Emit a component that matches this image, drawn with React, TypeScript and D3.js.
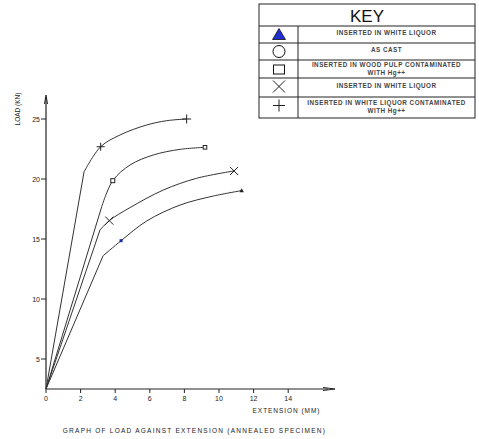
import React from "react";
import * as d3 from "d3";

// Extension (mm) and load (kN)
const extPlus = [0, 2.2, 3.16, 4.28, 5.82, 6.98, 8.13];
const loadPlus = [2.5, 20.6, 22.69, 23.67, 24.5, 24.86, 25.0];
const extSquare = [0, 3.22, 3.86, 4.86, 6.2, 7.75, 9.19];
const loadSquare = [2.5, 17.69, 19.86, 21.17, 22.0, 22.47, 22.64];
const extCross = [0, 3.12, 3.66, 4.86, 6.78, 8.71, 10.87];
const loadCross = [2.5, 15.75, 16.53, 17.62, 19.08, 20.06, 20.67];
const extTri = [0, 3.3, 4.34, 5.82, 7.75, 9.67, 11.31];
const loadTri = [2.5, 13.6, 14.86, 16.5, 17.83, 18.58, 19.03];

const xTicks = [0, 2, 4, 6, 8, 10, 12, 14];
const yTicks = [5, 10, 15, 20, 25];

const keySymbols = ["triangle", "circle", "square", "cross", "plus"];
const keyLabels = [
  ["INSERTED IN WHITE LIQUOR"],
  ["AS CAST"],
  ["INSERTED IN WOOD PULP  CONTAMINATED", "WITH Hg++"],
  ["INSERTED IN WHITE LIQUOR"],
  ["INSERTED IN WHITE LIQUOR  CONTAMINATED", "WITH Hg++"],
];

const FONT = "'Liberation Sans', Arial, sans-serif";
const INK = "#222";

function zip(xs: number[], ys: number[]): [number, number][] {
  return xs.map((x, i) => [x, ys[i]]);
}

export default function App() {
  const x = d3.scaleLinear().domain([0, 14]).range([46, 288.2]);
  const y = d3.scaleLinear().domain([5, 25]).range([359, 119]);
  const y0 = y(2.5);
  const x0 = x(0);

  const lin = d3.line<[number, number]>().x((d) => x(d[0])).y((d) => y(d[1]));
  const smooth = d3
    .line<[number, number]>()
    .x((d) => x(d[0]))
    .y((d) => y(d[1]))
    .curve(d3.curveCatmullRom.alpha(0.5));

  const series = [
    { pts: zip(extPlus, loadPlus), kink: 1 },
    { pts: zip(extSquare, loadSquare), kink: 1 },
    { pts: zip(extCross, loadCross), kink: 1 },
    { pts: zip(extTri, loadTri), kink: 1 },
  ];

  const plus = (cx: number, cy: number, s: number, key: string) => (
    <g key={key} stroke={INK} strokeWidth={1}>
      <line x1={cx - s} x2={cx + s} y1={cy} y2={cy} />
      <line x1={cx} x2={cx} y1={cy - s} y2={cy + s} />
    </g>
  );
  const cross = (cx: number, cy: number, s: number, key: string) => (
    <g key={key} stroke={INK} strokeWidth={1}>
      <line x1={cx - s} x2={cx + s} y1={cy - s} y2={cy + s} />
      <line x1={cx - s} x2={cx + s} y1={cy + s} y2={cy - s} />
    </g>
  );

  // legend geometry
  const kx0 = 259, kx1 = 475, kdiv = 298;
  const rowEdges = [4, 26, 43, 60, 78, 97, 118];

  return (
    <svg
      width={479}
      height={439}
      style={{ position: "absolute", left: 0, top: 0, background: "#fff" }}
      fontFamily={FONT}
    >
      {/* axes */}
      <line x1={x0} x2={x0} y1={y0} y2={97} stroke={INK} strokeWidth={1.2} />
      <path d={`M${x0 - 1.5},${104} L${x0},${95} L${x0 + 1.5},${104}`} fill="none" stroke={INK} strokeWidth={1} />
      <line x1={x0} x2={328} y1={y0} y2={y0} stroke={INK} strokeWidth={1.2} />
      <path d={`M${323},${y0 - 1.5} L${335},${y0} L${323},${y0 + 1.5}`} fill="none" stroke={INK} strokeWidth={1} />

      {yTicks.map((t) => (
        <g key={"y" + t}>
          <line x1={x0 - 5} x2={x0} y1={y(t)} y2={y(t)} stroke={INK} strokeWidth={1} />
          <text x={x0 - 6} y={y(t) + 2.5} fontSize={7} textAnchor="end" fill={INK}>
            {t}
          </text>
        </g>
      ))}
      {xTicks.map((t) => (
        <g key={"x" + t}>
          <line x1={x(t)} x2={x(t)} y1={y0} y2={y0 + 4} stroke={INK} strokeWidth={1} />
          <text x={x(t)} y={y0 + 12} fontSize={7} textAnchor="middle" fill={INK}>
            {t}
          </text>
        </g>
      ))}

      <text
        transform={`translate(20,109) rotate(-90)`}
        fontSize={6.5}
        textAnchor="middle"
        fill={INK}
      >
        LOAD (KN)
      </text>
      <text x={286.5} y={413} fontSize={6.5} textAnchor="middle" fill={INK} letterSpacing={0.95}>
        EXTENSION (MM)
      </text>
      <text x={194.5} y={433} fontSize={6.5} textAnchor="middle" fill={INK} letterSpacing={1.25}>
        GRAPH OF LOAD AGAINST EXTENSION (ANNEALED SPECIMEN)
      </text>

      {/* curves */}
      {series.map((s, i) => (
        <g key={"s" + i} fill="none" stroke="#333" strokeWidth={1}>
          <path d={lin(s.pts.slice(0, s.kink + 1)) || ""} />
          <path d={smooth(s.pts.slice(s.kink)) || ""} />
        </g>
      ))}

      {/* markers */}
      {plus(x(extPlus[2]), y(loadPlus[2]), 4, "p1")}
      {plus(x(extPlus[6]), y(loadPlus[6]), 4.5, "p2")}
      <rect x={x(extSquare[2]) - 2} y={y(loadSquare[2]) - 2} width={4} height={4} fill="#fff" stroke={INK} strokeWidth={1} />
      <rect x={x(extSquare[6]) - 1.8} y={y(loadSquare[6]) - 1.8} width={3.6} height={3.6} fill="#fff" stroke={INK} strokeWidth={1} />
      {cross(x(extCross[2]), y(loadCross[2]), 4, "c1")}
      {cross(x(extCross[6]), y(loadCross[6]), 4, "c2")}
      <rect x={x(extTri[2]) - 1.5} y={y(loadTri[2]) - 1.5} width={3} height={3} fill="#1a2aa8" />
      <path
        d={`M${x(extTri[6])},${y(loadTri[6]) - 2.5} L${x(extTri[6]) + 2.2},${y(loadTri[6]) + 1.5} L${x(extTri[6]) - 2.2},${y(loadTri[6]) + 1.5}Z`}
        fill={INK}
      />

      {/* key */}
      <rect x={kx0} y={rowEdges[0]} width={kx1 - kx0} height={rowEdges[6] - rowEdges[0]} fill="#fff" stroke={INK} strokeWidth={1} />
      {rowEdges.slice(1, 6).map((e) => (
        <line key={"r" + e} x1={kx0} x2={kx1} y1={e} y2={e} stroke={INK} strokeWidth={1} />
      ))}
      <line x1={kdiv} x2={kdiv} y1={rowEdges[1]} y2={rowEdges[6]} stroke={INK} strokeWidth={1} />
      <text x={(kx0 + kx1) / 2} y={21.5} fontSize={17} textAnchor="middle" fill="#111">
        KEY
      </text>
      {keySymbols.map((sym, i) => {
        const cy = (rowEdges[i + 1] + rowEdges[i + 2]) / 2;
        const cx = 279;
        let mark: React.ReactNode = null;
        if (sym === "triangle")
          mark = <path d={`M${cx},${cy - 6} L${cx + 6.5},${cy + 5} L${cx - 6.5},${cy + 5}Z`} fill="#1f2fd0" stroke="#111" strokeWidth={0.8} />;
        else if (sym === "circle") mark = <circle cx={cx} cy={cy} r={6} fill="none" stroke="#111" strokeWidth={1} />;
        else if (sym === "square")
          mark = <rect x={cx - 5.5} y={cy - 4} width={11} height={9} fill="none" stroke="#111" strokeWidth={1} />;
        else if (sym === "cross") mark = cross(cx, cy - 1, 6, "kc");
        else mark = plus(cx, cy - 2, 6, "kp");
        const lines = keyLabels[i];
        const lh = 8;
        const startY = cy - ((lines.length - 1) * lh) / 2 + 2;
        return (
          <g key={"k" + i}>
            {mark}
            {lines.map((l, j) => (
              <text key={j} x={(kdiv + kx1) / 2} y={startY + j * lh - (lines.length > 1 ? 0.5 : 1.5)} fontSize={6.3} textAnchor="middle" fill="#444" fontWeight="bold" letterSpacing={0.5}>
                {l}
              </text>
            ))}
          </g>
        );
      })}
    </svg>
  );
}
